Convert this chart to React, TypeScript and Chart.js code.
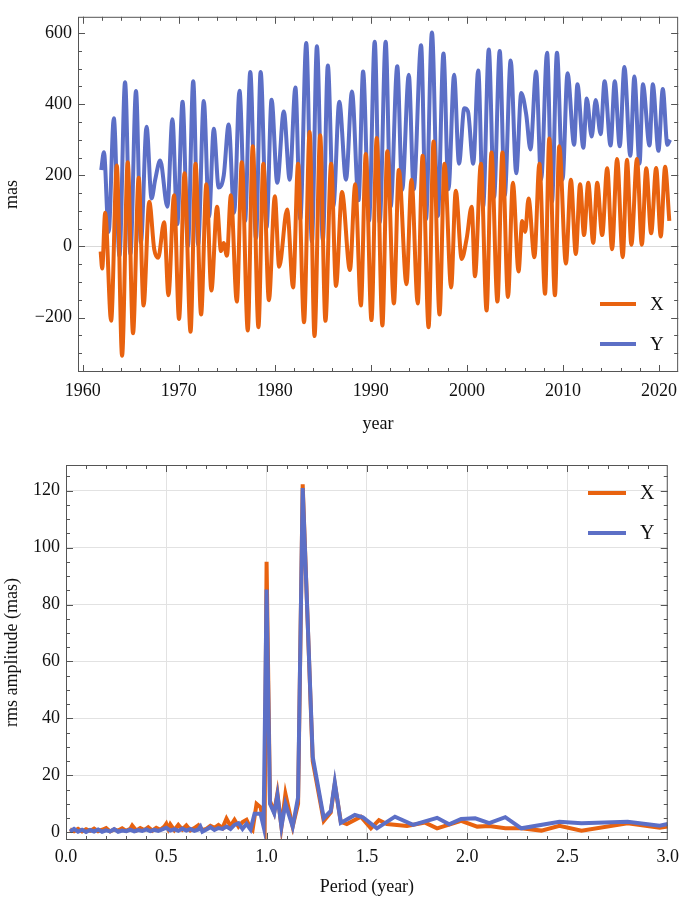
import React, { useEffect, useRef } from "react";
import { Chart, registerables } from "chart.js";
Chart.register(...registerables);

const X_COLOR = "#e8620f";
const Y_COLOR = "#5c6fc6";
const FONT = "'Liberation Serif', 'Times New Roman', serif";

// ---------- Top panel: polar motion X and Y (mas) vs year ----------
const xYears = [
  1961.86, 1962.02, 1962.33, 1962.95, 1963.54, 1964.09, 1964.68, 1965.23, 1965.82, 1966.33,
  1966.92, 1967.44, 1967.85, 1968.47, 1968.92, 1969.5, 1970.02, 1970.6, 1971.22, 1971.74,
  1972.32, 1972.87, 1973.39, 1973.98, 1974.39, 1974.67, 1975.01, 1975.42, 1976.04, 1976.56,
  1977.18, 1977.7, 1978.29, 1978.8, 1979.38, 1980.0, 1980.45, 1981.28, 1981.9, 1982.42,
  1983.04, 1983.62, 1984.13, 1984.72, 1985.27, 1985.86, 1986.37, 1986.99, 1987.82, 1988.37,
  1988.96, 1989.47, 1990.06, 1990.61, 1991.2, 1991.71, 1992.4, 1992.91, 1993.71, 1994.23,
  1994.88, 1995.39, 1996.01, 1996.53, 1997.15, 1997.67, 1998.36, 1998.84, 1999.46, 1999.98,
  2000.5, 2000.84, 2001.46, 2002.05, 2002.56, 2003.18, 2003.7, 2004.28, 2004.79, 2005.38,
  2005.76, 2006.07, 2006.42, 2007.03, 2007.55, 2008.14, 2008.58, 2009.17, 2009.62, 2010.31,
  2010.83, 2011.34, 2011.79, 2012.2, 2012.64, 2013.16, 2013.57, 2014.09, 2014.61, 2015.12,
  2015.64, 2016.23, 2016.67, 2017.13, 2017.71, 2018.22, 2018.68, 2019.19, 2019.71, 2020.19,
  2020.64, 2021.08,
];
const xValues = [
  -14, -62, 95, -209, 228, -307, 237, -244, 193, -166,
  126, -8, -32, 68, -137, 144, -204, 206, -240, 233,
  -191, 175, -124, 112, -13, 10, -26, 144, -155, 237,
  -236, 282, -227, 233, -151, 141, -57, 104, -115, 233,
  -213, 322, -252, 313, -209, 233, -111, 153, -66, 175,
  -166, 260, -207, 305, -222, 268, -160, 215, -106, 188,
  -160, 255, -227, 295, -191, 233, -115, 157, -35, 23,
  112, -84, 233, -180, 264, -155, 264, -142, 179, -70,
  72, 41, 135, -30, 233, -133, 304, -137, 282, -48,
  188, -21, 175, 32, 179, 10, 179, 32, 220, -8,
  246, -30, 244, 5, 246, 5, 220, 37, 221, 28,
  224, 72,
];
const yYears = [
  1961.92, 1962.2, 1962.69, 1963.23, 1963.82, 1964.4, 1964.96, 1965.54, 1966.05, 1966.64,
  1967.16, 1967.54, 1968.06, 1968.81, 1969.33, 1969.84, 1970.39, 1970.95, 1971.5, 1972.01,
  1972.6, 1973.15, 1973.64, 1974.15, 1974.68, 1975.19, 1975.76, 1976.32, 1976.9, 1977.44,
  1978.04, 1978.52, 1979.14, 1979.66, 1980.25, 1980.93, 1981.55, 1982.14, 1982.65, 1983.27,
  1983.86, 1984.38, 1985.0, 1985.52, 1986.09, 1986.71, 1987.41, 1988.03, 1988.72, 1989.19,
  1989.81, 1990.4, 1990.92, 1991.54, 1992.06, 1992.75, 1993.26, 1993.95, 1994.46, 1995.23,
  1995.74, 1996.36, 1996.98, 1997.56, 1998.08, 1998.67, 1999.18, 1999.73, 2000.11, 2000.66,
  2001.18, 2001.69, 2002.28, 2002.83, 2003.42, 2003.94, 2004.56, 2005.14, 2005.66, 2006.18,
  2006.62, 2007.21, 2007.73, 2008.35, 2008.86, 2009.38, 2009.96, 2010.48, 2011.17, 2011.51,
  2012.13, 2012.48, 2013.0, 2013.41, 2013.93, 2014.34, 2014.96, 2015.4, 2015.92, 2016.4,
  2017.02, 2017.44, 2017.98, 2018.33, 2019.02, 2019.36, 2019.95, 2020.4, 2020.88, 2021.16,
];
const yValues = [
  215, 265, 41, 361, -26, 462, -21, 437, 11, 337,
  135, 188, 242, 112, 358, 63, 407, 1, 465, 5,
  409, 84, 331, 166, 200, 343, 95, 438, 72, 491,
  23, 491, 54, 413, 179, 380, 188, 447, 77, 572,
  14, 563, 19, 509, 112, 407, 188, 436, 130, 492,
  72, 576, 68, 576, 112, 507, 159, 483, 161, 566,
  77, 602, 86, 543, 161, 483, 233, 389, 380, 233,
  495, 112, 554, 139, 550, 144, 523, 206, 432, 371,
  273, 492, 188, 545, 126, 545, 188, 487, 286, 456,
  278, 416, 309, 412, 316, 465, 284, 465, 282, 505,
  255, 478, 233, 456, 284, 456, 269, 443, 286, 300,
];
const yearTicks = [1960, 1970, 1980, 1990, 2000, 2010, 2020];
const masTicks = [-200, 0, 200, 400, 600];

// ---------- Bottom panel: rms amplitude (mas) vs period (year) ----------
const periodX = [
  0.02, 0.04, 0.06, 0.08, 0.1, 0.12, 0.14, 0.16, 0.18, 0.2,
  0.22, 0.24, 0.26, 0.28, 0.3, 0.32, 0.33, 0.35, 0.37, 0.39,
  0.41, 0.43, 0.45, 0.47, 0.49, 0.5, 0.51, 0.52, 0.54, 0.56,
  0.58, 0.6, 0.62, 0.64, 0.66, 0.68, 0.7, 0.72, 0.74, 0.76,
  0.78, 0.8, 0.82, 0.84, 0.86, 0.88, 0.9, 0.92, 0.93, 0.95,
  0.97, 0.99, 1.0, 1.017, 1.038, 1.054, 1.074, 1.094, 1.13, 1.157,
  1.18, 1.23, 1.285, 1.32, 1.34, 1.37, 1.4, 1.47, 1.52, 1.56,
  1.6, 1.7, 1.79, 1.85, 1.97, 2.05, 2.11, 2.19, 2.27, 2.37,
  2.46, 2.57, 2.8, 2.96, 3.0,
];
const ampX = [
  1.0, 0.4, 1.2, 0.3, 1.1, 0.5, 1.3, 0.4, 0.9, 1.5,
  0.3, 1.0, 0.6, 1.4, 0.5, 1.2, 2.4, 0.6, 1.5, 0.8,
  1.8, 0.6, 1.6, 0.9, 2.0, 3.0, 1.2, 2.8, 0.8, 2.6,
  1.0, 2.4, 0.7, 1.5, 2.5, 0.8, 1.2, 2.3, 1.6, 2.6,
  1.5, 4.8, 2.2, 4.4, 2.0, 3.6, 4.4, 1.5, 0.8, 10.0,
  8.8, 2.0, 95.0, 11.0, 7.0, 13.7, 2.0, 13.5, 2.0, 10.0,
  122.2, 25.0, 4.0, 7.0, 17.0, 3.7, 2.9, 5.5, 1.4, 4.3,
  2.9, 2.2, 3.4, 1.4, 4.0, 2.0, 2.2, 1.4, 1.4, 0.6,
  2.3, 0.6, 3.2, 1.6, 2.0,
];
const periodY = [
  0.02, 0.04, 0.06, 0.08, 0.1, 0.12, 0.14, 0.16, 0.18, 0.2,
  0.22, 0.24, 0.26, 0.28, 0.3, 0.32, 0.34, 0.36, 0.38, 0.4,
  0.42, 0.44, 0.46, 0.48, 0.5, 0.52, 0.54, 0.56, 0.58, 0.6,
  0.62, 0.64, 0.66, 0.67, 0.68, 0.7, 0.72, 0.74, 0.76, 0.78,
  0.8, 0.82, 0.84, 0.86, 0.88, 0.9, 0.92, 0.94, 0.97, 0.985,
  1.0, 1.017, 1.038, 1.054, 1.074, 1.094, 1.13, 1.157, 1.18, 1.23,
  1.285, 1.32, 1.34, 1.37, 1.44, 1.48, 1.55, 1.64, 1.73, 1.85,
  1.91, 1.97, 2.04, 2.11, 2.19, 2.27, 2.46, 2.57, 2.8, 2.96,
  3.0,
];
const ampY = [
  0.3, 1.2, 0.2, 0.9, 0.1, 0.8, 0.3, 1.0, 0.2, 0.7,
  0.3, 1.1, 0.2, 0.6, 0.4, 0.9, 0.3, 0.8, 0.5, 1.0,
  0.4, 0.9, 0.5, 1.0, 1.6, 0.6, 1.1, 0.5, 1.3, 0.6,
  1.2, 0.5, 1.0, 2.0, 0.2, 1.0, 1.8, 0.8, 1.5, 1.2,
  2.0, 1.2, 2.6, 3.2, 1.2, 3.0, 1.0, 6.5, 6.5, 2.0,
  85.3, 10.0, 6.7, 13.0, 2.0, 10.0, 2.0, 12.3, 120.9, 26.5,
  5.0, 7.5, 17.5, 3.3, 6.1, 5.3, 1.4, 5.5, 2.6, 5.1,
  2.8, 4.7, 4.9, 3.2, 5.3, 1.4, 3.7, 3.2, 3.7, 2.3,
  2.9,
];
const periodTicks = [0, 0.5, 1, 1.5, 2, 2.5, 3];
const ampTicks = [0, 20, 40, 60, 80, 100, 120];

// ---------- plugins (decoration only) ----------
const framePlugin = {
  id: "frame",
  afterDatasetsDraw(chart: any, _args: any, opts: any) {
    const { ctx, chartArea: a, scales } = chart;
    const xs = scales.x;
    const ys = scales.y;
    ctx.save();
    ctx.strokeStyle = "#555";
    ctx.lineWidth = 1;
    ctx.strokeRect(a.left + 0.5, a.top + 0.5, a.right - a.left - 1, a.bottom - a.top - 1);
    const tick = (v: number, len: number, horiz: boolean) => {
      if (horiz) {
        const p = Math.round(xs.getPixelForValue(v)) + 0.5;
        if (p < a.left || p > a.right) return;
        ctx.beginPath();
        ctx.moveTo(p, a.bottom);
        ctx.lineTo(p, a.bottom - len);
        ctx.moveTo(p, a.top);
        ctx.lineTo(p, a.top + len);
        ctx.stroke();
      } else {
        const p = Math.round(ys.getPixelForValue(v)) + 0.5;
        if (p < a.top || p > a.bottom) return;
        ctx.beginPath();
        ctx.moveTo(a.left, p);
        ctx.lineTo(a.left + len, p);
        ctx.moveTo(a.right, p);
        ctx.lineTo(a.right - len, p);
        ctx.stroke();
      }
    };
    const steps = (min: number, max: number, step: number) => {
      const out: number[] = [];
      const start = Math.ceil(min / step - 1e-9) * step;
      for (let v = start; v <= max + 1e-9; v += step) out.push(+v.toFixed(6));
      return out;
    };
    steps(xs.min, xs.max, opts.xMinor).forEach((v) => tick(v, 4, true));
    steps(xs.min, xs.max, opts.xMajor).forEach((v) => tick(v, 7, true));
    steps(ys.min, ys.max, opts.yMinor).forEach((v) => tick(v, 4, false));
    steps(ys.min, ys.max, opts.yMajor).forEach((v) => tick(v, 7, false));
    ctx.restore();
  },
};

const legendPlugin = {
  id: "ownLegend",
  afterDraw(chart: any, _args: any, opts: any) {
    const { ctx } = chart;
    ctx.save();
    chart.data.datasets.forEach((ds: any, i: number) => {
      const y = opts.y + i * opts.gap;
      ctx.strokeStyle = ds.borderColor;
      ctx.lineWidth = opts.lineWidth;
      ctx.beginPath();
      ctx.moveTo(opts.x1, y);
      ctx.lineTo(opts.x2, y);
      ctx.stroke();
      ctx.fillStyle = "#111";
      ctx.font = `${opts.size}px ${FONT}`;
      ctx.textBaseline = "middle";
      ctx.textAlign = "left";
      ctx.fillText(ds.label, opts.textX, y + 1);
    });
    ctx.restore();
  },
};

function PanelChart({ config, width, height, top }: any) {
  const ref = useRef<HTMLCanvasElement | null>(null);
  useEffect(() => {
    if (!ref.current) return;
    const chart = new Chart(ref.current, config);
    return () => chart.destroy();
  }, []);
  return (
    <canvas
      ref={ref}
      width={width}
      height={height}
      style={{ position: "absolute", left: 0, top, width, height }}
    />
  );
}

const tickFont = { family: FONT, size: 18 };
const titleFont = { family: FONT, size: 18 };

const topConfig: any = {
  type: "line",
  data: {
    datasets: [
      {
        label: "X",
        data: xYears.map((t, i) => ({ x: t, y: xValues[i] })),
        borderColor: X_COLOR,
        borderWidth: 4,
        pointRadius: 0,
        cubicInterpolationMode: "monotone",
        order: 0,
      },
      {
        label: "Y",
        data: yYears.map((t, i) => ({ x: t, y: yValues[i] })),
        borderColor: Y_COLOR,
        borderWidth: 4,
        pointRadius: 0,
        cubicInterpolationMode: "monotone",
        order: 1,
      },
    ],
  },
  options: {
    responsive: false,
    animation: false,
    devicePixelRatio: 1,
    layout: { padding: { left: 0, right: 2, top: 1, bottom: 0 } },
    plugins: {
      legend: { display: false },
      tooltip: { enabled: false },
      frame: { xMinor: 2, xMajor: 10, yMinor: 50, yMajor: 200 },
      ownLegend: { x1: 600, x2: 636, textX: 650, y: 304, gap: 40, size: 19, lineWidth: 4 },
    },
    scales: {
      x: {
        type: "linear",
        min: 1959.5,
        max: 2022.0,
        afterBuildTicks: (s: any) => {
          s.ticks = yearTicks.map((v) => ({ value: v }));
        },
        afterFit: (s: any) => {
          s.height = 73;
        },
        ticks: { font: tickFont, color: "#111", padding: 8, callback: (v: any) => String(v) },
        grid: { display: false, drawTicks: false },
        border: { display: false },
        title: { display: true, text: "year", font: titleFont, color: "#111", padding: { top: 0, bottom: 10 } },
      },
      y: {
        type: "linear",
        min: -353,
        max: 646,
        afterBuildTicks: (s: any) => {
          s.ticks = masTicks.map((v) => ({ value: v }));
        },
        afterFit: (s: any) => {
          s.width = 78;
        },
        ticks: {
          font: tickFont,
          color: "#111",
          padding: 6,
          callback: (v: any) => (v < 0 ? "\u2212" + Math.abs(v) : String(v)),
        },
        grid: {
          drawTicks: false,
          color: (c: any) => (c.tick && c.tick.value === 0 ? "#d9d9d9" : "rgba(0,0,0,0)"),
        },
        border: { display: false },
        title: { display: true, text: "mas", font: titleFont, color: "#111", padding: { top: 1, bottom: 0 } },
      },
    },
  },
  plugins: [framePlugin, legendPlugin],
};

const bottomConfig: any = {
  type: "line",
  data: {
    datasets: [
      {
        label: "X",
        data: periodX.map((p, i) => ({ x: p, y: ampX[i] })),
        borderColor: X_COLOR,
        borderWidth: 4,
        pointRadius: 0,
        tension: 0,
        order: 1,
      },
      {
        label: "Y",
        data: periodY.map((p, i) => ({ x: p, y: ampY[i] })),
        borderColor: Y_COLOR,
        borderWidth: 4,
        pointRadius: 0,
        tension: 0,
        order: 0,
      },
    ],
  },
  options: {
    responsive: false,
    animation: false,
    devicePixelRatio: 1,
    layout: { padding: { left: 0, right: 12, top: 20, bottom: 0 } },
    plugins: {
      legend: { display: false },
      tooltip: { enabled: false },
      frame: { xMinor: 0.1, xMajor: 0.5, yMinor: 5, yMajor: 20 },
      ownLegend: { x1: 588, x2: 626, textX: 640, y: 48, gap: 40, size: 20, lineWidth: 4 },
    },
    scales: {
      x: {
        type: "linear",
        min: 0,
        max: 3,
        afterBuildTicks: (s: any) => {
          s.ticks = periodTicks.map((v) => ({ value: v }));
        },
        afterFit: (s: any) => {
          s.height = 58;
        },
        ticks: { font: tickFont, color: "#111", padding: 6, callback: (v: any) => Number(v).toFixed(1) },
        grid: { drawTicks: false, color: "#e2e2e2" },
        border: { display: false },
        title: { display: true, text: "Period (year)", font: titleFont, color: "#111", padding: { top: 0, bottom: 0 } },
      },
      y: {
        type: "linear",
        min: -2.7,
        max: 129,
        afterBuildTicks: (s: any) => {
          s.ticks = ampTicks.map((v) => ({ value: v }));
        },
        afterFit: (s: any) => {
          s.width = 66;
        },
        ticks: { font: tickFont, color: "#111", padding: 6, callback: (v: any) => String(v) },
        grid: { drawTicks: false, color: "#e2e2e2" },
        border: { display: false },
        title: { display: true, text: "rms amplitude (mas)", font: titleFont, color: "#111", padding: { top: 1, bottom: 0 } },
      },
    },
  },
  plugins: [framePlugin, legendPlugin],
};

export default function App() {
  return (
    <div style={{ position: "fixed", left: 0, top: 0, width: 685, height: 898, background: "#fff" }}>
      <PanelChart config={topConfig} width={685} height={445} top={0} />
      <PanelChart config={bottomConfig} width={685} height={453} top={445} />
    </div>
  );
}
